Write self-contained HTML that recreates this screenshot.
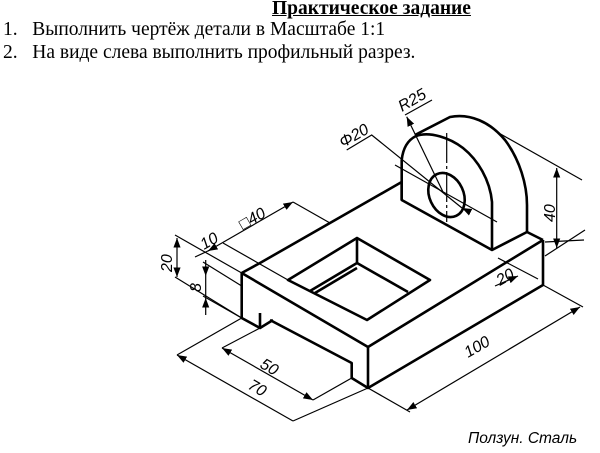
<!DOCTYPE html>
<html><head><meta charset="utf-8"><style>
html,body{margin:0;padding:0;background:#fff;}
body{width:600px;height:453px;position:relative;overflow:hidden;font-family:"Liberation Serif",serif;}
.t{position:absolute;white-space:nowrap;color:#000;font-size:19.5px;}
svg{position:absolute;left:0;top:0;}
</style></head><body>
<div class="t" style="left:272px;top:-2px;font-weight:bold;text-decoration:underline;">Практическое задание</div>
<div class="t" style="left:3px;top:19px;">1.&nbsp;&nbsp;&nbsp;Выполнить чертёж детали в Масштабе 1:1</div>
<div class="t" style="left:3px;top:42px;">2.&nbsp;&nbsp;&nbsp;На виде слева выполнить профильный разрез.</div>
<svg width="600" height="453" viewBox="0 0 600 453" font-family="Liberation Sans, sans-serif">
<defs><marker id="a" markerWidth="8" markerHeight="6" refX="8" refY="3" orient="auto"><path d="M0,0 L8,3 L0,6 z" fill="#000"/></marker>
<marker id="b" markerWidth="8" markerHeight="6" refX="0" refY="3" orient="auto"><path d="M8,0 L0,3 L8,6 z" fill="#000"/></marker></defs>
<g stroke="#000" stroke-width="2.6" fill="none" stroke-linejoin="round">
<path d="M241.7,273 L260,263 L401.7,182"/>
<path d="M241.7,273 L368,347 L543,240"/>
<path d="M241.7,273 L241.7,318 L260,328 L260,313"/>
<path d="M260,328 L273,320"/>
<path d="M270,320 L351.7,363 L351.7,378 L368,388 L543,285 L543,240"/>
<path d="M368,347 L368,388"/>
<path d="M288,280 L357,238 L430,280 L367,320 Z"/>
<path d="M357,238 L357,263 L310,291"/>
<path d="M357,268 L315,293"/>
<path d="M357,263 L408,292"/>
<path d="M401.7,182 L401.7,200 L492,250 L527,232 L543,240"/>
<path d="M401.7,200 L401.7,160 C403,148 408,140 416,136 C430,131 450,138 463,148 C478,160 490,180 492,202 L492,250"/>
<path d="M415,135 L450,117 C470,113 490,122 505,140 C520,160 527,185 527,205 L527,232"/>
<ellipse cx="446.5" cy="195" rx="17" ry="23" transform="rotate(-25 446.5 195)"/>
</g>
<g stroke="#000" stroke-width="1.2" fill="none">
<path d="M446.7,133 L446.7,222" stroke-dasharray="30,3,3,3"/>
<path d="M395,165 L497,222"/>
<path d="M405,115 L432,100"/><path d="M406.7,116.7 L443,192" marker-start="url(#b)"/>
<path d="M346.7,150 L371.7,135 L462,208" />
<path d="M470,212 L462,208" marker-end="url(#a)"/>
<path d="M497,132 L582,180"/><path d="M545,242 L584,240"/>
<path d="M556.7,168 L556.7,248" marker-start="url(#b)" marker-end="url(#a)"/>
<path d="M545,256 L585,230"/>
<path d="M498,258 L538,279"/><path d="M495,286 L518,276" marker-end="url(#a)"/>
<path d="M368,388 L410,412"/><path d="M543,285 L583,307"/>
<path d="M407,410 L580,307" marker-start="url(#b)" marker-end="url(#a)"/>
<path d="M241.7,318 L177,355"/><path d="M368,388 L293,421"/>
<path d="M177,355 L293,421" marker-start="url(#b)"/>
<path d="M260,328 L222,348"/><path d="M351.7,378 L313,400"/>
<path d="M222,348 L313,400" marker-start="url(#b)" marker-end="url(#a)"/>
<path d="M175,235 L241.7,273"/><path d="M175,277 L241.7,318"/><path d="M203,262 L241.7,286"/><path d="M203,296 L241.7,318"/>
<path d="M177,238 L177,277" marker-start="url(#b)" marker-end="url(#a)"/>
<path d="M205.7,260 L205.7,276" marker-end="url(#a)"/>
<path d="M205.7,315 L205.7,298" marker-end="url(#a)"/>
<path d="M205.7,276 L205.7,298"/>
<path d="M208,251 L293,202" marker-start="url(#b)" marker-end="url(#a)"/>
<path d="M223,243 L288,280"/><path d="M293,202 L330,223"/>
<path d="M195,257 L210,250"/>
</g>
<g font-size="16" fill="#000" font-style="italic">
<text transform="translate(402,112) rotate(-30)">R25</text>
<text transform="translate(343,148) rotate(-30)">Φ20</text>
<text transform="translate(555,222) rotate(-90)">40</text>
<text transform="translate(500,286) rotate(-30)">20</text>
<text transform="translate(468,358) rotate(-30)">100</text>
<text transform="translate(259,367) rotate(30)">50</text>
<text transform="translate(247,388) rotate(30)">70</text>
<text transform="translate(172,272) rotate(-90)">20</text>
<text transform="translate(201,292) rotate(-90)">8</text>
<text transform="translate(204,250) rotate(-30)">10</text>
<text transform="translate(243,230) rotate(-30)"><tspan font-style="normal">□</tspan>40</text>
</g>
<text x="468" y="443" font-size="15.5" font-style="italic" fill="#000">Ползун. Сталь</text>
</svg>
</body></html>
